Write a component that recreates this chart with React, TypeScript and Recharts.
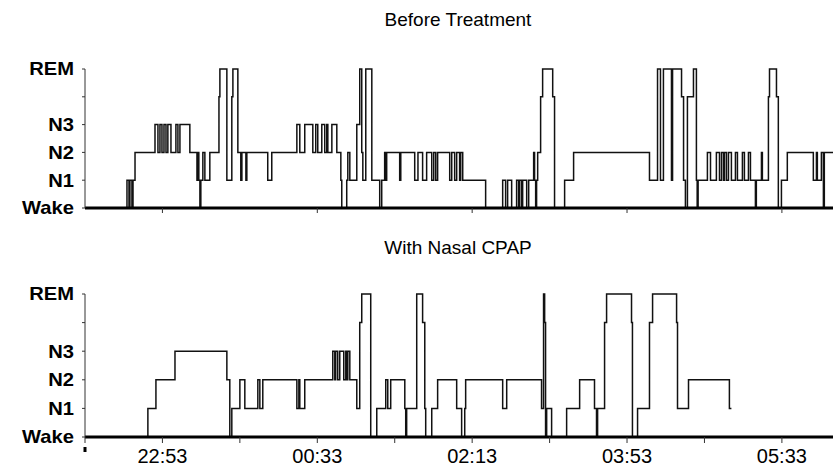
import React from 'react'
import { LineChart, Line, XAxis, YAxis } from 'recharts'

// minutes since 22:03, and stage (0 Wake, 1 N1, 2 N2, 3 N3, 5 REM; 4 = transition level)
const beforeTimes = [
  0, 27.1, 28.4, 29, 30.3, 31, 32.3, 45.2, 47.1, 48.4, 49.7, 51, 52.3, 53.5, 55.5, 58.7, 60, 61.3,
  67.7, 72.3, 72.9, 73.5, 74.2, 74.8, 76.1, 77.4, 80.6, 86.5, 87.1, 91.6, 94.8, 95.5, 98.7, 100.6,
  101.3, 103.9, 104.5, 118, 120.6, 136.8, 138.7, 141.9, 147.1, 149, 150.3, 152.9, 154.8, 156.1,
  156.8, 159.4, 162.6, 165.2, 165.8, 169, 169.7, 171, 175.5, 177.4, 178.7, 179.4, 181.3, 185.2,
  190.3, 191.6, 193.5, 194.2, 194.8, 203.2, 203.9, 212.9, 215, 218, 220.6, 223.9, 225.2, 226.5,
  227.7, 235.5, 236.8, 238.7, 240, 241.9, 242.6, 243.9, 258.7, 269.7, 271.6, 272.9, 275.5, 278.7,
  280, 280.6, 281.9, 282.6, 285.2, 286.5, 289.7, 290.3, 291, 291.6, 292.3, 294.2, 295.5, 302,
  303.2, 309.7, 315.5, 364.5, 369.7, 371.6, 373.5, 378.7, 379.4, 385.2, 386.5, 387.7, 389, 392.9,
  394.8, 395.3, 395.9, 401.9, 403.9, 407.7, 409.7, 411, 412.3, 412.9, 414.2, 415.5, 417.4, 420,
  421.3, 424.5, 425.8, 428.4, 429.7, 432.9, 433.5, 436.8, 437.4, 441.3, 442, 446.5, 447.7, 449.7,
  453.5, 470.3, 472.3, 472.9, 475.5, 476.8, 477.4, 483,
]
const beforeStages = [
  0, 1, 0, 1, 0, 1, 2, 3, 2, 3, 2, 3, 2, 3, 2, 3, 2, 3,
  2, 1, 2, 1, 0, 1, 2, 1, 2, 4, 5, 1, 4, 5, 2, 1,
  2, 1, 2, 1, 2, 3, 2, 3, 2, 3, 2, 3, 2, 3,
  2, 3, 2, 1, 0, 1, 2, 1, 3, 5, 2, 1, 5, 1,
  0, 1, 2, 1, 2, 1, 2, 1, 2, 1, 2, 1, 2, 1,
  2, 1, 2, 1, 2, 1, 2, 1, 0, 1, 0, 1, 0, 1,
  0, 1, 0, 1, 0, 1, 2, 1, 0, 1, 2, 4, 5, 4,
  0, 1, 2, 1, 5, 1, 5, 1, 5, 4, 1, 0, 4, 5,
  1, 0, 1, 2, 1, 2, 1, 2, 1, 2, 1, 2, 1, 2,
  1, 2, 1, 2, 1, 0, 1, 2, 1, 4, 5, 4, 0, 1,
  2, 1, 2, 1, 2, 0, 2, 2,
]

const cpapTimes = [
  0, 40.6, 45.8, 58.1, 91.6, 93.5, 94.8, 100, 103.2, 111.6, 112.9, 114.8, 136.8, 138.1, 138.7,
  141.9, 160, 161.3, 161.9, 163.2, 164.5, 167.1, 168.4, 169, 169.7, 171, 175.5, 177.4, 178.7,
  184.5, 188.4, 194.2, 195.5, 197.4, 206.5, 207.1, 207.7, 214.2, 218, 219.4, 220, 223.9, 227.7,
  240, 243.2, 245.2, 245.8, 269.7, 272.3, 294.8, 296.1, 296.8, 297.4, 298.1, 301.3, 311, 319.4,
  329, 330.3, 331, 335.5, 336.8, 352.9, 353.5, 356.8, 364.5, 366.5, 382, 382.6, 389.7, 416.1,
  417.4,
]
const cpapStages = [
  0, 1, 2, 3, 2, 0, 1, 2, 1, 2, 1, 2, 1, 2, 1,
  2, 3, 2, 3, 2, 3, 2, 3, 2, 3, 2, 1, 4, 5,
  0, 1, 2, 1, 2, 1, 0, 1, 5, 4, 1, 0, 1, 2,
  1, 0, 1, 2, 1, 2, 1, 5, 4, 0, 1, 0, 1, 2,
  1, 0, 1, 4, 5, 4, 0, 1, 4, 5, 4, 1, 2, 1,
  1,
]

const stageLabels = ['Wake', 'N1', 'N2', 'N3', '', 'REM']
const stageTicks = [0, 1, 2, 3, 4, 5]
const labelTicks = [50, 150, 250, 350, 450]
const allTicks = [0, 50, 100, 150, 200, 250, 300, 350, 400, 450]

const before = beforeTimes.map((t, i) => ({ t, s: beforeStages[i] }))
const cpap = cpapTimes.map((t, i) => ({ t, s: cpapStages[i] }))

const clock = (m: number) => {
  const total = (22 * 60 + 3 + m) % (24 * 60)
  const h = Math.floor(total / 60)
  const mm = total % 60
  return `${String(h).padStart(2, '0')}:${String(mm).padStart(2, '0')}`
}

const font = '"Liberation Sans", Arial, sans-serif'

// stage labels are a bit wider than plain Arial bold in the original
const StageTick = (props: any) => {
  const { x, y, payload } = props
  return (
    <text
      transform={`translate(${x},${y}) scale(1.12,1)`}
      textAnchor="end"
      dy="0.355em"
      fill="#000"
      fontSize={18}
      fontWeight="bold"
      fontFamily={font}
    >
      {stageLabels[payload.value]}
    </text>
  )
}

const TimeTick = (props: any) => {
  const { x, y, payload } = props
  const v = payload.value
  return (
    <g>
      {v === 0 && <rect x={x - 1.5} y={y - 2} width={3} height={5} fill="#000" />}
      {v % 100 === 50 && (
        <text x={x} y={y} textAnchor="middle" dy="0.71em" fill="#000" fontSize={20} fontFamily={font}>
          {clock(v)}
        </text>
      )}
    </g>
  )
}

const yAxisProps = {
  dataKey: 's',
  type: 'number' as const,
  domain: [0, 5],
  ticks: stageTicks,
  width: 85,
  tickSize: 3,
  tickMargin: 8,
  interval: 0 as const,
  tick: <StageTick />,
  axisLine: { stroke: '#333' },
  tickLine: { stroke: '#333' },
}

export default function App() {
  return (
    <div style={{ position: 'absolute', left: 0, top: 0, width: 833, height: 469, background: '#fff', fontFamily: font }}>
      <div style={{ position: 'absolute', left: 0, width: 916, top: 9, textAlign: 'center', fontSize: 19 }}>
        Before Treatment
      </div>
      <div style={{ position: 'absolute', left: 0, width: 916, top: 237, textAlign: 'center', fontSize: 19 }}>
        With Nasal CPAP
      </div>

      <div style={{ position: 'absolute', left: 0, top: 0 }}>
        <LineChart width={833} height={225} data={before} margin={{ top: 69, right: 0, left: 0, bottom: 0 }}>
          <XAxis
            dataKey="t"
            type="number"
            domain={[0, 483]}
            ticks={labelTicks}
            height={17}
            tickSize={5}
            tickFormatter={() => ''}
            axisLine={{ stroke: '#000', strokeWidth: 3 }}
            tickLine={{ stroke: '#333' }}
          />
          <YAxis {...yAxisProps} />
          <Line
            type="stepAfter"
            dataKey="s"
            stroke="#111"
            strokeWidth={1.5}
            dot={false}
            isAnimationActive={false}
          />
        </LineChart>
      </div>

      <div style={{ position: 'absolute', left: 0, top: 225 }}>
        <LineChart width={833} height={244} data={cpap} margin={{ top: 69, right: 0, left: 0, bottom: 0 }}>
          <XAxis
            dataKey="t"
            type="number"
            domain={[0, 483]}
            ticks={allTicks}
            interval={0}
            height={32}
            tickSize={6}
            tickMargin={6}
            tick={<TimeTick />}
            axisLine={{ stroke: '#000', strokeWidth: 3 }}
            tickLine={{ stroke: '#333' }}
          />
          <YAxis {...yAxisProps} />
          <Line
            type="stepAfter"
            dataKey="s"
            stroke="#111"
            strokeWidth={1.5}
            dot={false}
            isAnimationActive={false}
          />
        </LineChart>
      </div>
    </div>
  )
}
